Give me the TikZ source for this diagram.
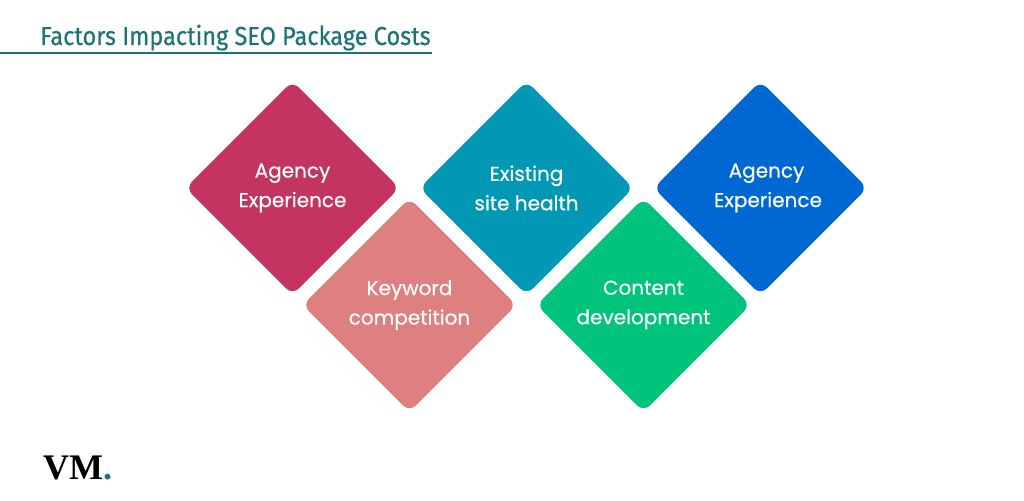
\documentclass[tikz,border=0pt]{standalone}
\usepackage{fontspec}
\setmainfont[FakeBold=0.4]{Poppins}
\newfontfamily\titlefont[FakeStretch=0.905,FakeBold=0.5]{Fira Sans}
\newfontfamily\logofont{Liberation Serif}
\usetikzlibrary{shapes.geometric, positioning}
\definecolor{titleTeal}{RGB}{29, 116, 120}
\definecolor{agencyRose}{RGB}{196, 52, 97}
\definecolor{keywordPink}{RGB}{222, 127, 128}
\definecolor{healthTeal}{RGB}{0, 152, 180}
\definecolor{contentGreen}{RGB}{0, 196, 124}
\definecolor{experienceBlue}{RGB}{0, 104, 210}

\begin{document}
\begin{tikzpicture}[
    x=1pt, y=1pt,
    % Node styles
    tile/.style={
        diamond,
        rounded corners=9pt,
        minimum width=214pt,
        minimum height=214pt,
        inner sep=0pt,
        align=center,
        font=\fontsize{20}{29.5}\selectfont,
        text=white,
        fill=#1
    },
    % Title style
    heading/.style={
        font=\titlefont\fontsize{26}{30}\selectfont,
        text=titleTeal,
        anchor=base west,
        inner sep=0pt
    }
]
\useasboundingbox (0,0) rectangle (1024,500);

% ============================================
% TITLE
% ============================================
\node[heading] (title) at (40,455) {Factors Impacting SEO Package Costs};
\coordinate (ruleStart) at (0,447);
\coordinate (ruleEnd) at (432,447);
\draw[titleTeal, line width=1.5pt] (ruleStart) -- (ruleEnd);

% ============================================
% TOP ROW
% ============================================
\node[tile=agencyRose] (agency) at (292.5,312) {Agency\\Experience};
\node[tile=healthTeal, right=234pt of agency.center, anchor=center] (health) {Existing\\site health};
\node[tile=experienceBlue, right=234pt of health.center, anchor=center] (experience) {\hspace*{12pt}Agency\\\hspace*{15pt}Experience};

% ============================================
% BOTTOM ROW
% ============================================
\node[tile=keywordPink, below right=117pt and 117pt of agency.center, anchor=center] (keyword) {Keyword\\competition};
\node[tile=contentGreen, right=234pt of keyword.center, anchor=center] (content) {Content\\development};

% ============================================
% LOGO
% ============================================
\node[anchor=base west, inner sep=0pt, font=\logofont\bfseries\fontsize{36}{36}\selectfont] (logo) at (43,20) {VM\textcolor{titleTeal}{.}};

\end{tikzpicture}
\end{document}
